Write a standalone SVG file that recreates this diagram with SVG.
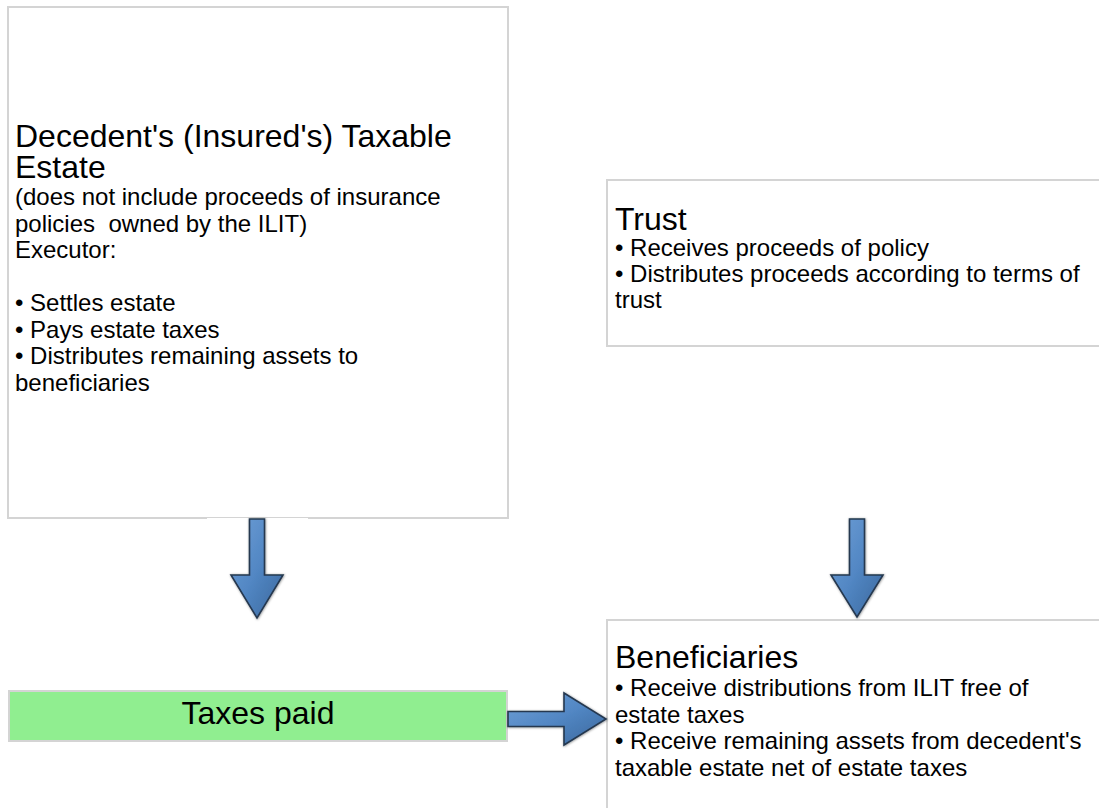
<svg xmlns="http://www.w3.org/2000/svg" width="1099" height="808" viewBox="0 0 1099 808">
  <style>
    .box { fill: #ffffff; stroke: #d4d4d4; stroke-width: 2; }
    .green { fill: #90ee90; stroke: #d4d4d4; stroke-width: 2; }
    .t { font-family: "Liberation Sans", Arial, sans-serif; fill: #000000; }
    .title { font-size: 32px; }
    .body { font-size: 24px; }
    .arrow { fill: url(#blueGrad); stroke: #25384f; stroke-width: 1.6; stroke-linejoin: miter; }
  </style>
  <defs>
    <linearGradient id="blueGrad" x1="0" y1="0" x2="1" y2="1">
      <stop offset="0" stop-color="#6f9fd6"/>
      <stop offset="0.5" stop-color="#5287c4"/>
      <stop offset="1" stop-color="#3a679c"/>
    </linearGradient>
    <filter id="shadow" x="-20%" y="-20%" width="140%" height="140%">
      <feDropShadow dx="0.5" dy="0.5" stdDeviation="0.8" flood-color="#000000" flood-opacity="0.45"/>
    </filter>
  </defs>
  <rect width="1099" height="808" fill="#ffffff"/>

  <g id="estate">
    <rect class="box" x="8" y="7" width="500" height="511"/>
    <line x1="207" y1="518.5" x2="308" y2="518.5" stroke="#ffffff" stroke-width="1"/>
    <text class="t title" x="15" y="147">Decedent's (Insured's) Taxable</text>
    <text class="t title" x="15" y="178">Estate</text>
    <text class="t body" x="15" y="205">(does not include proceeds of insurance</text>
    <text class="t body" x="15" y="231.5" xml:space="preserve">policies  owned by the ILIT)</text>
    <text class="t body" x="15" y="258">Executor:</text>
    <text class="t body" x="15" y="311">• Settles estate</text>
    <text class="t body" x="15" y="337.5">• Pays estate taxes</text>
    <text class="t body" x="15" y="364">• Distributes remaining assets to</text>
    <text class="t body" x="15" y="390.5">beneficiaries</text>
  </g>

  <g id="trust">
    <rect class="box" x="607" y="180" width="500" height="166"/>
    <text class="t title" x="615" y="229.5">Trust</text>
    <text class="t body" x="615" y="255.5">• Receives proceeds of policy</text>
    <text class="t body" x="615" y="282">• Distributes proceeds according to terms of</text>
    <text class="t body" x="615" y="308">trust</text>
  </g>

  <g id="taxes">
    <rect class="green" x="9" y="691" width="498" height="50"/>
    <text class="t title" x="258" y="724" text-anchor="middle">Taxes paid</text>
  </g>

  <g id="beneficiaries">
    <rect class="box" x="607" y="620" width="500" height="200"/>
    <text class="t title" x="615" y="668">Beneficiaries</text>
    <text class="t body" x="615" y="696">• Receive distributions from ILIT free of</text>
    <text class="t body" x="615" y="722.5">estate taxes</text>
    <text class="t body" x="615" y="749">• Receive remaining assets from decedent's</text>
    <text class="t body" x="615" y="775.5">taxable estate net of estate taxes</text>
  </g>

  <g id="connectors" filter="url(#shadow)">
    <path id="arrow-estate-taxes" class="arrow" d="M249.5,519 L264.5,519 L264.5,575 L283,575 L257,618 L231,575 L249.5,575 Z"/>
    <path id="arrow-trust-beneficiaries" class="arrow" d="M849.5,519 L864.5,519 L864.5,575 L883,575 L857,617 L831,575 L849.5,575 Z"/>
    <path id="arrow-taxes-beneficiaries" class="arrow" d="M508,711.5 L564,711.5 L564,693 L606,719 L564,745 L564,726.5 L508,726.5 Z"/>
  </g>
</svg>
